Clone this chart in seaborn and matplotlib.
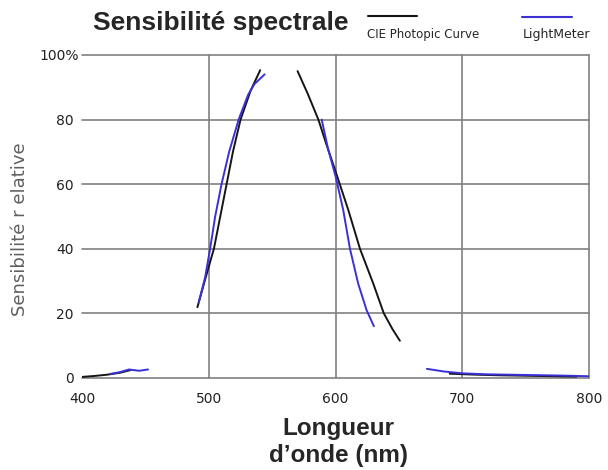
import numpy as np
import pandas as pd
import seaborn as sns
import matplotlib.pyplot as plt
from matplotlib.lines import Line2D
from matplotlib.transforms import ScaledTranslation

# CIE photopic curve (black), drawn as separate segments
cie_x = [[400, 410, 420, 430, 438],
         [491, 496, 504, 509, 514, 519, 525, 533, 540.5],
         [570, 578, 586.4, 593, 600, 610, 619.2, 629.7, 638, 645, 650.7],
         [690, 710, 730, 760, 790]]
cie_y = [[0.3, 0.6, 1.0, 1.6, 2.4],
         [21.9, 29, 40, 50, 60, 70, 80, 89, 95.3],
         [95, 88, 80, 72, 63.9, 52, 40, 29.2, 20, 15, 11.5],
         [1.3, 1.0, 0.8, 0.6, 0.4]]

# light meter response (blue)
meter_x = [[422, 430, 437, 445, 452],
           [492, 497, 501, 505, 510, 516, 523.5, 531, 536, 544],
           [589, 594, 600, 606, 611.3, 617.8, 624.4, 630.2],
           [672, 685, 700, 720, 750, 780, 800]]
meter_y = [[1.2, 1.8, 2.6, 2.2, 2.6],
           [23.4, 31, 40, 50, 60, 70, 80, 87.7, 91, 94],
           [80, 71, 62.4, 52, 40, 29.2, 21, 16],
           [2.8, 2.0, 1.4, 1.1, 0.9, 0.7, 0.5]]

x_ticks = [400, 500, 600, 700, 800]
y_ticks = [0, 20, 40, 60, 80, 100]
y_labels = ['0', '20', '40', '60', '80', '100%']

rows = []
for name, xs, ys in [('CIE', cie_x, cie_y), ('Meter', meter_x, meter_y)]:
    for i, (sx, sy) in enumerate(zip(xs, ys)):
        for a, b in zip(sx, sy):
            rows.append({'curve': name, 'seg': f'{name}{i}', 'nm': a, 'val': b})
df = pd.DataFrame(rows)

sns.set_style("white")
plt.rcParams['font.family'] = ['DejaVu Sans']

fig = plt.figure(figsize=(6.08, 4.70), dpi=100)
ax = fig.add_axes([0.135, 0.196, 0.834, 0.687])

grid_c = '#808080'
for x in x_ticks[1:]:
    ax.axvline(x, color=grid_c, lw=1.2, zorder=0, clip_on=False)
for y in y_ticks:
    ax.axhline(y, color=grid_c, lw=1.2, zorder=0, clip_on=False)

sns.lineplot(data=df, x='nm', y='val', hue='curve', units='seg', estimator=None,
             sort=False, palette={'CIE': '#151515', 'Meter': '#3b30d6'},
             linewidth=1.4, legend=False, ax=ax)

ax.set_xlim(400, 800)
ax.set_ylim(0, 100)
for s in ax.spines.values():
    s.set_visible(False)
ax.set_xticks(x_ticks)
ax.set_yticks(y_ticks)
ax.set_yticklabels(y_labels)
ax.tick_params(axis='both', length=0, labelsize=10, colors='#222222')
ax.tick_params(axis='x', pad=10)
ax.tick_params(axis='y', pad=6)
# the percent sign sticks out past the other labels
top = ax.get_yticklabels()[-1]
top.set_transform(top.get_transform() + ScaledTranslation(5 / 100, 0, fig.dpi_scale_trans))

ax.set_xlabel('')
ax.set_ylabel('Sensibilité r elative', fontsize=13, color='#606060')
ax.yaxis.set_label_coords(-0.105, 0.46)

fig.text(0.557, 0.112, 'Longueur\nd\u2019onde (nm)', fontsize=17.5, fontweight='bold',
         family='Liberation Sans', linespacing=1.2, ha='center', va='top')

fig.text(0.153, 0.951, 'Sensibilité spectrale', fontsize=19, fontweight='bold',
         family='Liberation Sans', va='center', ha='left')

fig.add_artist(Line2D([0.605, 0.686], [0.965, 0.965], color='#151515', lw=1.5))
fig.text(0.603, 0.927, 'CIE Photopic Curve', fontsize=8.5, va='center', ha='left')
fig.add_artist(Line2D([0.858, 0.941], [0.963, 0.963], color='#3b30d6', lw=1.5))
fig.text(0.859, 0.927, 'LightMeter', fontsize=9, va='center', ha='left')

fig.savefig('out.png', dpi=100, facecolor='white')
